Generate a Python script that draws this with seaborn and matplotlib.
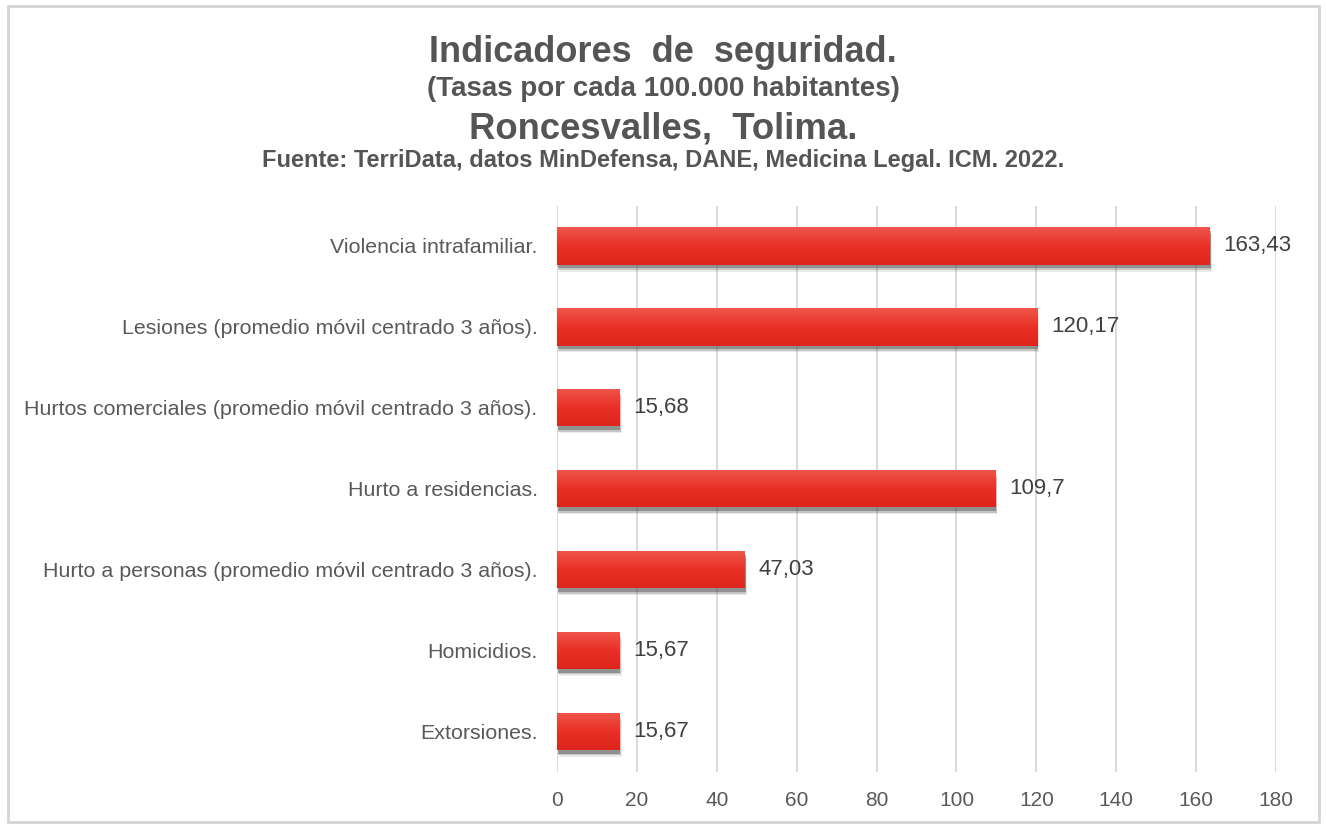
import matplotlib
matplotlib.use("Agg")
import matplotlib.pyplot as plt
import seaborn as sns
import pandas as pd
import numpy as np
from matplotlib import patheffects as pe
from matplotlib.patches import Rectangle

categories = [
    "Violencia intrafamiliar.",
    "Lesiones (promedio móvil centrado 3 años).",
    "Hurtos comerciales (promedio móvil centrado 3 años).",
    "Hurto a residencias.",
    "Hurto a personas (promedio móvil centrado 3 años).",
    "Homicidios.",
    "Extorsiones.",
]
values = [163.43, 120.17, 15.68, 109.7, 47.03, 15.67, 15.67]
value_labels = ["163,43", "120,17", "15,68", "109,7", "47,03", "15,67", "15,67"]
xticks = [0, 20, 40, 60, 80, 100, 120, 140, 160, 180]

df = pd.DataFrame({"cat": categories, "val": values})

sns.set_theme(style="white")
plt.rcParams["font.family"] = ["Liberation Sans", "DejaVu Sans"]

fig = plt.figure(figsize=(13.26, 8.24), dpi=100)
ax = fig.add_axes([557/1326, 1 - 772/824, (1276-557)/1326, (772-205.5)/824])

sns.barplot(data=df, x="val", y="cat", orient="h", color="#e8332a",
            width=0.46, ax=ax, saturation=1, zorder=3)

cmap = matplotlib.colors.LinearSegmentedColormap.from_list(
    "g", ["#f0564c", "#e83026", "#de251b"])
for p in ax.patches:
    p.set_edgecolor("none")
    p.set_path_effects([
        pe.SimplePatchShadow(offset=(1.5, -5), shadow_rgbFace="#777777", alpha=0.15),
        pe.SimplePatchShadow(offset=(1, -3.8), shadow_rgbFace="#555555", alpha=0.25),
        pe.SimplePatchShadow(offset=(0.5, -2.5), shadow_rgbFace="#444444", alpha=0.4),
        pe.Normal()])
    x0, y0 = p.get_x(), p.get_y()
    w, h = p.get_width(), p.get_height()
    grad = np.linspace(0, 1, 64).reshape(-1, 1)
    im = ax.imshow(grad, cmap=cmap, extent=[x0, x0 + w, y0 + h, y0], aspect="auto",
                   zorder=4, origin="upper")
    im.set_clip_path(p)

ax.set_xlim(0, 180)
ax.set_ylim(6.5, -0.5)
ax.set_xticks(xticks)
ax.set_xticklabels([str(t) for t in xticks])
ax.grid(axis="x", color="#dadada", linewidth=1.4, zorder=0)
ax.grid(axis="y", visible=False)
for s in ax.spines.values():
    s.set_visible(False)
ax.set_xlabel("")
ax.set_ylabel("")
ax.tick_params(axis="x", length=0, pad=14, labelsize=15, labelcolor="#595959")
ax.tick_params(axis="y", length=0, pad=14, labelsize=15.4, labelcolor="#595959")

for i, (v, lab) in enumerate(zip(values, value_labels)):
    ax.annotate(lab, xy=(v, i), xytext=(10, 0), textcoords="offset points",
                va="center", ha="left", fontsize=16, color="#404040", zorder=5)

# titles
tc = "#555555"
fig.text(0.5, 1 - 62/824, "Indicadores  de  seguridad.", ha="center", va="baseline",
         fontsize=26, fontweight="bold", color=tc)
fig.text(0.5, 1 - 96/824, "(Tasas por cada 100.000 habitantes)", ha="center", va="baseline",
         fontsize=20, fontweight="bold", color=tc)
fig.text(0.5, 1 - 138/824, "Roncesvalles,  Tolima.", ha="center", va="baseline",
         fontsize=26.3, fontweight="bold", color=tc)
fig.text(0.5, 1 - 167/824, "Fuente: TerriData, datos MinDefensa, DANE, Medicina Legal. ICM. 2022.",
         ha="center", va="baseline", fontsize=17, fontweight="bold", color=tc)

# outer border
fig.patches.append(Rectangle((8/1326, 1 - 822/824), (1319-8)/1326, (822-6)/824,
                             transform=fig.transFigure, fill=False,
                             edgecolor="#d4d4d4", linewidth=2))

fig.savefig("out.png", dpi=100, facecolor="white")
